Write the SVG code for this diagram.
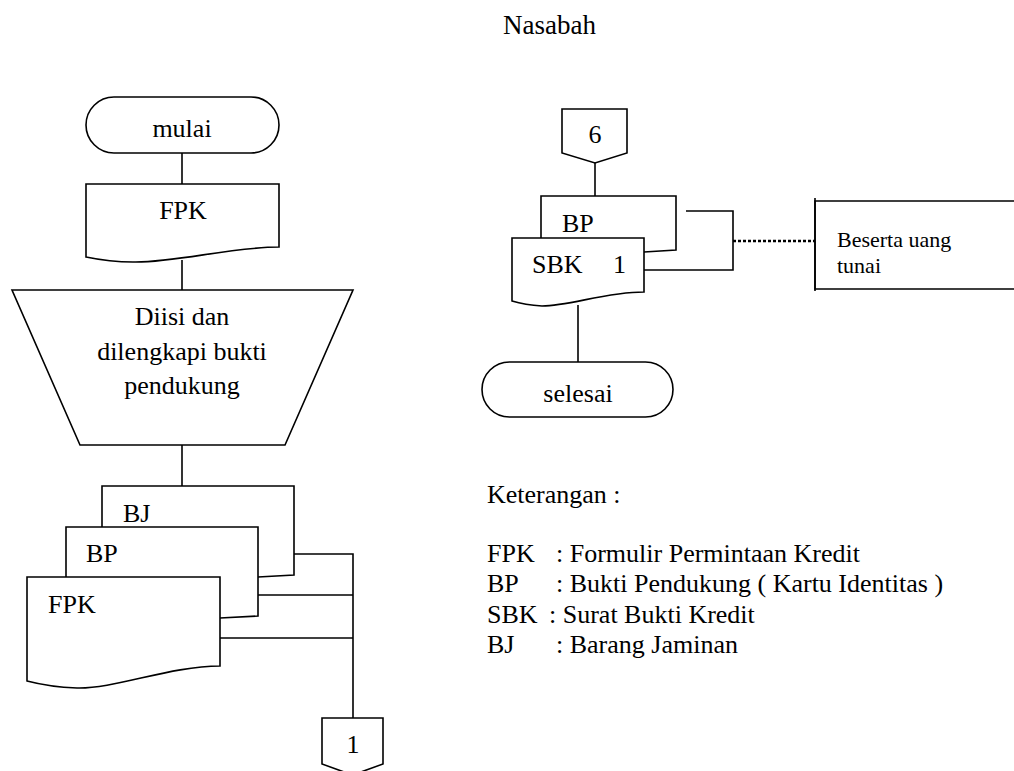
<svg xmlns="http://www.w3.org/2000/svg" width="1014" height="771" viewBox="0 0 1014 771" font-family="'Liberation Serif', 'Times New Roman', Times, serif">
  <style>
    .shape { fill: #ffffff; stroke: #000000; stroke-width: 1.6; stroke-linejoin: miter; }
    .line { fill: none; stroke: #000000; stroke-width: 1.6; }
    .dotted { fill: none; stroke: #000000; stroke-width: 2.6; stroke-dasharray: 3 2; }
    text { font-family: "Liberation Serif", "Times New Roman", Times, serif; font-size: 26px; fill: #000000; }
    .mid { text-anchor: middle; }
    .small { font-size: 22px; }
  </style>
  <rect width="1014" height="771" fill="#ffffff"/>

  <!-- lane title -->
  <text id="title" x="503" y="34" style="font-size:27px">Nasabah</text>

  <!-- connectors -->
  <g id="connectors">
    <line class="line" x1="182" y1="153" x2="182" y2="184"/>
    <line class="line" x1="182" y1="260" x2="182" y2="290"/>
    <line class="line" x1="182" y1="445" x2="182" y2="486"/>
    <polyline class="line" points="294,554 353,554 353,718"/>
    <line class="line" x1="258" y1="595" x2="353" y2="595"/>
    <line class="line" x1="220" y1="638" x2="353" y2="638"/>
    <line class="line" x1="595" y1="163" x2="595" y2="196"/>
    <line class="line" x1="578" y1="305" x2="578" y2="362"/>
    <polyline class="line" points="686,211 733,211 733,270 644,270"/>
    <line class="dotted" x1="733" y1="241" x2="815" y2="241"/>
  </g>

  <!-- start terminator -->
  <g id="start">
    <rect class="shape" x="86" y="97" width="193" height="56" rx="28" ry="28"/>
    <text class="mid" x="182" y="137">mulai</text>
  </g>

  <!-- credit request form -->
  <g id="doc-fpk">
    <path class="shape" d="M86,184 H279 V247 C230,247 175,263 133,262 Q110,262 86,257 Z"/>
    <text class="mid" x="183" y="219">FPK</text>
  </g>

  <!-- manual operation -->
  <g id="fill-in">
    <polygon class="shape" points="12,290 353,290 285,445 80,445"/>
    <text class="mid" x="182" y="325">Diisi dan</text>
    <text class="mid" x="182" y="360">dilengkapi bukti</text>
    <text class="mid" x="182" y="394">pendukung</text>
  </g>

  <!-- document stack -->
  <g id="doc-bj">
    <path class="shape" d="M102,486 H294 V575 Q276,576 258,577 L102,577 Z"/>
    <text x="123" y="522">BJ</text>
  </g>
  <g id="doc-bp">
    <path class="shape" d="M66,527 H258 V616 Q239,617 220,618 L66,618 Z"/>
    <text x="86" y="562">BP</text>
  </g>
  <g id="doc-fpk-2">
    <path class="shape" d="M27,577 H220 V666 C170,666 115,689 77,688 Q50,687 27,681 Z"/>
    <text x="48" y="613">FPK</text>
  </g>

  <!-- off-page connector 1 -->
  <g id="offpage-1">
    <polygon class="shape" points="322,718 383,718 383,764 352.5,775 322,764"/>
    <text class="mid" x="353" y="753">1</text>
  </g>

  <!-- off-page connector 6 -->
  <g id="offpage-6">
    <polygon class="shape" points="562,109 627,109 627,153 595,163 562,153"/>
    <text class="mid" x="595" y="143">6</text>
  </g>

  <!-- returned documents -->
  <g id="doc-bp-2">
    <path class="shape" d="M541,196 H676 V250 Q660,251 644,252 L541,252 Z"/>
    <text x="562" y="232">BP</text>
  </g>
  <g id="doc-sbk">
    <path class="shape" d="M512,238 H644 V292 C605,292 570,306 542,306 Q525,305 512,301 Z"/>
    <text x="532" y="273">SBK<tspan x="613">1</tspan></text>
  </g>

  <!-- annotation -->
  <g id="note">
    <path class="line" d="M1020,201 H815 V289 H1020"/>
    <line class="line" x1="815" y1="198" x2="815" y2="291"/>
    <text class="small" x="837" y="247">Beserta uang</text>
    <text class="small" x="837" y="273">tunai</text>
  </g>

  <!-- end terminator -->
  <g id="end">
    <rect class="shape" x="482" y="362" width="191" height="55" rx="27.5" ry="27.5"/>
    <text class="mid" x="578" y="402">selesai</text>
  </g>

  <!-- legend -->
  <g id="legend">
    <text x="487" y="503">Keterangan :</text>
    <text x="487" y="562">FPK<tspan x="556">: Formulir Permintaan Kredit</tspan></text>
    <text x="487" y="592">BP<tspan x="556">: Bukti Pendukung ( Kartu Identitas )</tspan></text>
    <text x="487" y="623">SBK<tspan x="549">: Surat Bukti Kredit</tspan></text>
    <text x="487" y="653">BJ<tspan x="556">: Barang Jaminan</tspan></text>
  </g>
</svg>
